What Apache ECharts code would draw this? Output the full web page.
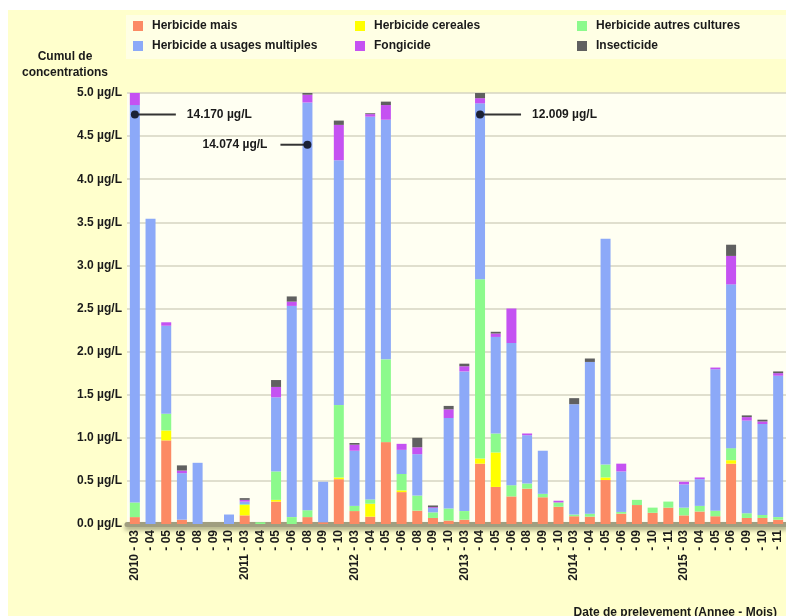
<!DOCTYPE html>
<html>
<head>
<meta charset="utf-8">
<script src="https://cdn.jsdelivr.net/npm/echarts@6/dist/echarts.min.js"></script>
<style>
  html, body { margin: 0; padding: 0; background: #ffffff; }
  #chart { width: 786px; height: 616px; }
</style>
</head>
<body>
<div id="chart"></div>
<script>
// prelevements (annee-mois)
const categories = [
  '2010-03', '2010-04', '2010-05', '2010-06', '2010-08', '2010-09', '2010-10',
  '2011-03', '2011-04', '2011-05', '2011-06', '2011-08', '2011-09', '2011-10',
  '2012-03', '2012-04', '2012-05', '2012-06', '2012-08', '2012-09', '2012-10',
  '2013-03', '2013-04', '2013-05', '2013-06', '2013-08', '2013-09', '2013-10',
  '2014-03', '2014-04', '2014-05', '2014-06', '2014-09', '2014-10', '2014-11',
  '2015-03', '2015-04', '2015-05', '2015-06', '2015-09', '2015-10', '2015-11'
]

// concentrations en µg/L (valeurs lues, bornees a l'echelle du graphique)
const herbicideMais = [
  0.08, 0, 0.97, 0.05, 0, 0, 0,
  0.10, 0, 0.26, 0, 0.08, 0.02, 0.52,
  0.15, 0.085, 0.95, 0.37, 0.155, 0.07, 0.04,
  0.05, 0.70, 0.43, 0.32, 0.41, 0.31, 0.20,
  0.09, 0.085, 0.51, 0.12, 0.22, 0.13, 0.19,
  0.10, 0.145, 0.09, 0.70, 0.07, 0.07, 0.05
]
const herbicideCereales = [
  0, 0, 0.115, 0, 0, 0, 0,
  0.12, 0, 0.02, 0, 0, 0, 0.02,
  0, 0.15, 0, 0.02, 0, 0, 0,
  0, 0.06, 0.40, 0, 0, 0, 0,
  0, 0, 0.03, 0, 0, 0, 0,
  0, 0, 0, 0.04, 0, 0, 0
]
const herbicideAutres = [
  0.17, 0, 0.195, 0, 0, 0, 0,
  0.01, 0.02, 0.33, 0.08, 0.08, 0, 0.84,
  0.06, 0.05, 0.96, 0.19, 0.175, 0.065, 0.14,
  0.10, 2.08, 0.22, 0.13, 0.06, 0.04, 0.05,
  0.02, 0.035, 0.15, 0.02, 0.06, 0.06, 0.07,
  0.09, 0.065, 0.065, 0.14, 0.055, 0.035, 0.03
]
const herbicideMultiples = [
  4.61, 3.54, 1.02, 0.54, 0.71, 0, 0.11,
  0.03, 0, 0.86, 2.45, 4.73, 0.47, 2.84,
  0.64, 4.44, 2.78, 0.28, 0.48, 0.05, 1.05,
  1.62, 2.04, 1.12, 1.65, 0.56, 0.50, 0,
  1.28, 1.76, 2.62, 0.47, 0, 0, 0,
  0.27, 0.31, 1.64, 1.90, 1.075, 1.055, 1.64
]
const fongicide = [
  0.3, 0, 0.04, 0.03, 0, 0, 0,
  0.02, 0, 0.12, 0.05, 0.09, 0, 0.41,
  0.07, 0.03, 0.17, 0.07, 0.08, 0.01, 0.10,
  0.06, 0.06, 0.04, 0.40, 0.02, 0, 0.02,
  0, 0, 0, 0.09, 0, 0, 0,
  0.03, 0.02, 0.02, 0.33, 0.04, 0.03, 0.03
]
const insecticide = [
  0, 0, 0, 0.06, 0, 0, 0,
  0.02, 0, 0.08, 0.06, 0.05, 0, 0.05,
  0.02, 0.01, 0.04, 0, 0.11, 0.02, 0.04,
  0.03, 0.06, 0.02, 0, 0, 0, 0,
  0.07, 0.04, 0, 0, 0, 0, 0,
  0, 0, 0, 0.13, 0.02, 0.02, 0.02
]

// cumuls hors echelle
const outlierCategories = ['2010-03', '2011-08', '2013-04']
const outlierMarkerY = [4.75, 4.4, 4.75]
const outlierLabels = ['14.170 µg/L', '14.074 µg/L', '12.009 µg/L']
const outlierSide = [1, -1, 1]

const yTicks = [0, 0.5, 1.0, 1.5, 2.0, 2.5, 3.0, 3.5, 4.0, 4.5, 5.0]

const seriesDefs = [
  { name: 'Herbicide mais', data: herbicideMais, color: '#fc8a64' },
  { name: 'Herbicide cereales', data: herbicideCereales, color: '#ffff00' },
  { name: 'Herbicide autres cultures', data: herbicideAutres, color: '#8cfa8c' },
  { name: 'Herbicide a usages multiples', data: herbicideMultiples, color: '#8ca9f8' },
  { name: 'Fongicide', data: fongicide, color: '#c552f2' },
  { name: 'Insecticide', data: insecticide, color: '#606060' }
]

const chart = echarts.init(document.getElementById('chart'))
const textColor = '#1a1a1a'
const boldText = { fontFamily: 'Liberation Sans, Arial, sans-serif', fontWeight: 'bold', fontSize: 12, color: textColor }

const legendBase = {
  orient: 'vertical',
  top: 15,
  itemWidth: 10,
  itemHeight: 10,
  itemGap: 8,
  icon: 'rect',
  textStyle: Object.assign({}, boldText, { padding: [0, 0, 0, 4] })
}

const barSeries = seriesDefs.map(s => ({
  name: s.name,
  type: 'bar',
  stack: 'total',
  barWidth: 10,
  data: s.data,
  itemStyle: { color: s.color },
  emphasis: { disabled: true }
}))

const annotationSeries = {
  type: 'custom',
  name: 'hors echelle',
  clip: false,
  z: 5,
  data: outlierCategories.map((c, i) => [categories.indexOf(c), outlierMarkerY[i], outlierSide[i]]),
  renderItem: function (params, api) {
    const pt = api.coord([api.value(0), api.value(1)])
    const side = api.value(2)
    const len = side > 0 ? 41 : 27
    const gap = side > 0 ? 11 : 13
    return {
      type: 'group',
      children: [
        {
          type: 'line',
          shape: { x1: pt[0], y1: pt[1], x2: pt[0] + side * len, y2: pt[1] },
          style: { stroke: '#333333', lineWidth: 2 }
        },
        {
          type: 'circle',
          shape: { cx: pt[0], cy: pt[1], r: 4 },
          style: { fill: '#1b2236' }
        },
        {
          type: 'text',
          style: {
            x: pt[0] + side * (len + gap),
            y: pt[1],
            text: outlierLabels[params.dataIndex],
            align: side > 0 ? 'left' : 'right',
            verticalAlign: 'middle',
            font: 'bold 12px Liberation Sans, Arial, sans-serif',
            fill: textColor
          }
        }
      ]
    }
  }
}

const option = {
  animation: false,
  textStyle: { fontFamily: 'Liberation Sans, Arial, sans-serif' },
  graphic: [
    { type: 'rect', z: -10, shape: { x: 8, y: 10, width: 800, height: 620 }, style: { fill: '#ffffcc' } },
    { type: 'rect', z: -9, shape: { x: 126, y: 15, width: 670, height: 44 }, style: { fill: '#ffffe4' } },
    {
      type: 'rect', z: -8, shape: { x: 780, y: 100, width: 6, height: 424 },
      style: {
        fill: new echarts.graphic.LinearGradient(0, 0, 1, 0, [
          { offset: 0, color: 'rgba(120,120,110,0.35)' },
          { offset: 1, color: 'rgba(120,120,110,0.1)' }
        ])
      }
    }
  ],
  title: [
    {
      text: 'Cumul de\nconcentrations',
      left: 60,
      top: 44,
      textAlign: 'center',
      textStyle: Object.assign({}, boldText, { lineHeight: 16 })
    },
    {
      text: 'Date de prelevement (Annee - Mois)',
      right: 4,
      top: 602,
      textStyle: boldText
    }
  ],
  legend: [
    Object.assign({}, legendBase, { left: 128, data: ['Herbicide mais', 'Herbicide a usages multiples'] }),
    Object.assign({}, legendBase, { left: 350, data: ['Herbicide cereales', 'Fongicide'] }),
    Object.assign({}, legendBase, { left: 572, data: ['Herbicide autres cultures', 'Insecticide'] })
  ],
  grid: {
    left: 127,
    top: 93,
    width: 662,
    bottom: 92,
    show: true,
    backgroundColor: '#fffff2',
    borderWidth: 0
  },
  xAxis: {
    type: 'category',
    data: categories,
    axisLine: {
      lineStyle: {
        color: '#a09e80', width: 5,
        shadowBlur: 4, shadowColor: 'rgba(60,60,40,0.45)', shadowOffsetY: 3
      }
    },
    axisTick: { alignWithLabel: true, length: 4, lineStyle: { color: '#111', width: 2 } },
    axisLabel: {
      interval: 0,
      rotate: 90,
      margin: 6,
      fontSize: 12,
      fontWeight: 'bold',
      color: textColor,
      formatter: function (value, index) {
        const [year, month] = value.split('-')
        const prev = index > 0 ? categories[index - 1].split('-')[0] : null
        return year !== prev ? year + ' - ' + month : '- ' + month
      }
    }
  },
  yAxis: {
    type: 'value',
    min: yTicks[0],
    max: yTicks[yTicks.length - 1],
    interval: 0.5,
    axisLine: { show: false },
    axisTick: { show: false },
    splitLine: { lineStyle: { color: '#d6d4c2', width: 1.5 } },
    axisLabel: {
      margin: 5,
      fontSize: 12,
      fontWeight: 'bold',
      color: textColor,
      formatter: v => v.toFixed(1) + ' µg/L'
    }
  },
  series: barSeries.concat([annotationSeries])
}

chart.setOption(option)
</script>
</body>
</html>
